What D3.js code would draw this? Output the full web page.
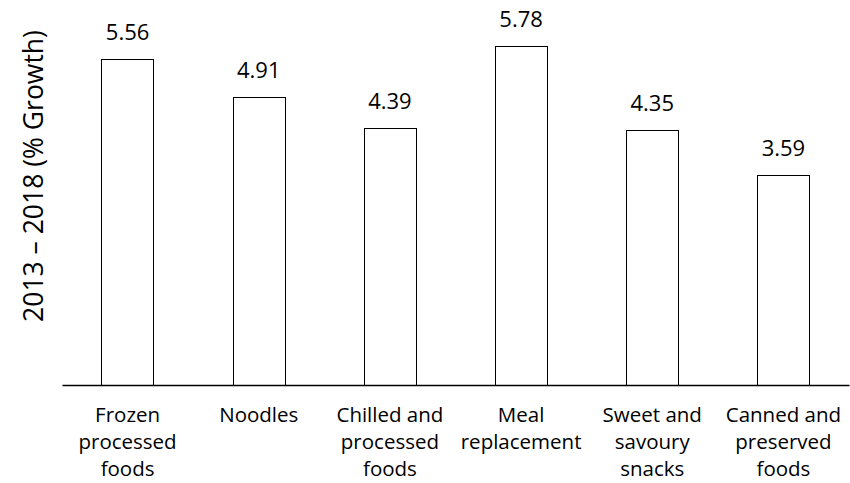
<!DOCTYPE html>
<html>
<head>
<meta charset="utf-8">
<script src="https://cdn.jsdelivr.net/npm/d3@7"></script>
<style>
  html, body { margin: 0; padding: 0; background: #fff; }
  svg { display: block; }
  text { font-family: "Open Sans", "Noto Sans", sans-serif; fill: #000; }
</style>
</head>
<body>
<svg id="chart" width="850" height="483"></svg>
<script>
// Market growth by packaged-food category, 2013–2018
const categories = [
  ["Frozen", "processed", "foods"],
  ["Noodles"],
  ["Chilled and", "processed", "foods"],
  ["Meal", "replacement"],
  ["Sweet and", "savoury", "snacks"],
  ["Canned and", "preserved", "foods"]
];
const values = [5.56, 4.91, 4.39, 5.78, 4.35, 3.59];
const yTitle = "2013 \u2013 2018 (% Growth)";

const svg = d3.select("#chart");
const left = 62, right = 849, baseY = 385;

const keys = categories.map((c, i) => i);
const x = d3.scaleBand().domain(keys).range([left, right])
  .paddingInner(0.6).paddingOuter(0.3);
const y = d3.scaleLinear().domain([0, 6]).range([baseY, baseY - 6 * 58.6]);

// Bars
svg.append("g").selectAll("rect")
  .data(values)
  .join("rect")
  .attr("x", (d, i) => Math.round(x(i)) + 0.5)
  .attr("y", d => Math.round(y(d)) + 0.5)
  .attr("width", Math.round(x.bandwidth()))
  .attr("height", d => Math.round(y(0)) - Math.round(y(d)))
  .attr("fill", "#fff")
  .attr("stroke", "#000")
  .attr("stroke-width", 1);

// Value labels above bars
svg.append("g").selectAll("text")
  .data(values)
  .join("text")
  .attr("x", (d, i) => x(i) + x.bandwidth() / 2)
  .attr("y", d => y(d) - 19)
  .attr("text-anchor", "middle")
  .style("font-size", "22px")
  .text(d => d.toFixed(2));

// Baseline axis
const xAxis = d3.axisBottom(x).tickSize(0).tickFormat("");
const axisG = svg.append("g")
  .attr("transform", `translate(0,${baseY})`)
  .call(xAxis);
axisG.select(".domain").attr("stroke", "#000").attr("stroke-width", 1.4);

// Multi-line category labels
const labels = svg.append("g").selectAll("text")
  .data(categories)
  .join("text")
  .attr("text-anchor", "middle")
  .style("font-size", "20.5px")
  .attr("transform", (d, i) => `translate(${x(i) + x.bandwidth() / 2},422)`);
labels.selectAll("tspan")
  .data(d => d)
  .join("tspan")
  .attr("x", 0)
  .attr("y", (d, j) => j * 27.2)
  .text(d => d);

// Y axis title
svg.append("text")
  .attr("transform", `translate(43,176) rotate(-90)`)
  .attr("text-anchor", "middle")
  .style("font-size", "26.5px")
  .text(yTitle);
</script>
</body>
</html>
